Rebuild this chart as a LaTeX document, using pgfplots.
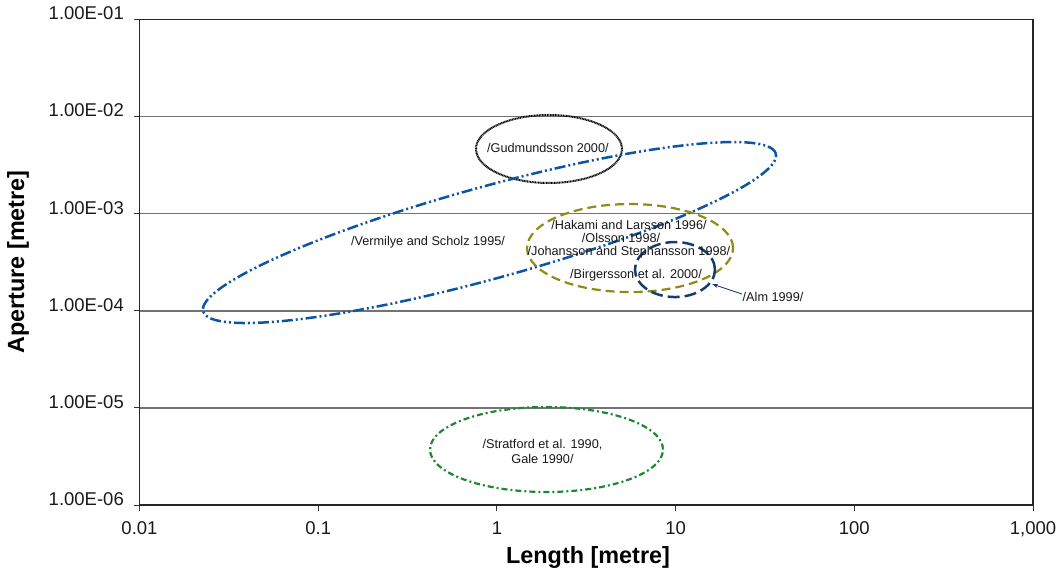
\documentclass[border=0pt]{standalone}
\usepackage{fontspec}
\setmainfont{Liberation Sans}
\usepackage{pgfplots}
\pgfplotsset{compat=1.18}
\usetikzlibrary{arrows.meta}
\definecolor{vblue}{RGB}{12,85,165}
\definecolor{volive}{RGB}{140,140,25}
\definecolor{vnavy}{RGB}{25,60,110}
\definecolor{vgreen}{RGB}{30,135,50}
\definecolor{vgrid}{RGB}{115,115,115}
\begin{document}
\begin{tikzpicture}
\begin{axis}[
  at={(0pt,0pt)}, anchor=south west,
  scale only axis, width=893.5pt, height=485.5pt,
  xmode=log, ymode=log,
  xmin=0.01, xmax=1000, ymin=1e-6, ymax=1e-1,
  xtick={0.01,0.1,1,10,100,1000},
  xticklabels={0.01,0.1,1,10,100,{1,000}},
  ytick={1e-6,1e-5,1e-4,1e-3,1e-2,1e-1},
  yticklabels={1.00E-06,1.00E-05,1.00E-04,1.00E-03,1.00E-02,1.00E-01},
  xminorticks=false, yminorticks=false,
  tick align=outside, xtick pos=left, ytick pos=left,
  major tick length=6pt,
  tick style={black!80, line width=1pt},
  axis line style={black!85, line width=1.4pt},
  ymajorgrids, major grid style={vgrid, line width=1.4pt},
  ticklabel style={font=\fontsize{18.5}{20}\selectfont, text=black!90},
  yticklabel style={anchor=east, inner sep=0pt, xshift=-9.5pt, yshift=6pt},
  xticklabel style={anchor=north, inner sep=0pt, yshift=-10.5pt},
  xlabel={\textbf{Length [metre]}},
  ylabel={\textbf{Aperture [metre]}},
  xlabel style={at={(axis description cs:0.502,-0.109)}, anchor=center, font=\fontsize{23.4}{26}\selectfont},
  ylabel style={at={(axis description cs:-0.136,0.5005)}, anchor=center, rotate=0, font=\fontsize{23.4}{26}\selectfont},
  clip=false,
]
% Gudmundsson 2000
\draw[black, line width=2pt, dash pattern=on 1pt off 0.6pt] (axis cs:1.957,4.64e-3) ellipse [x radius=73pt, y radius=34pt];
% Vermilye and Scholz 1995
\draw[vblue, line width=2.5pt, dash pattern=on 11pt off 3pt on 2pt off 3pt on 2pt off 3pt, rotate around={15.4:(axis cs:0.909,6.4e-4)}] (axis cs:0.909,6.4e-4) ellipse [x radius=297pt, y radius=46pt];
% Hakami et al.
\draw[volive, line width=2.2pt, dash pattern=on 9pt off 5pt] (axis cs:5.56,4.43e-4) ellipse [x radius=103pt, y radius=44pt];
% Alm 1999
\draw[vnavy, line width=2.5pt, dash pattern=on 12pt off 5pt] (axis cs:9.92,2.66e-4) ellipse [x radius=40pt, y radius=27.5pt];
% Stratford / Gale
\draw[vgreen, line width=2.2pt, dash pattern=on 6pt off 3pt on 2pt off 3pt] (axis cs:1.895,3.73e-6) ellipse [x radius=116.5pt, y radius=42.5pt];
% arrow
\draw[vnavy, line width=0.9pt, -{Stealth[length=6pt,width=4pt]}] (axis cs:23.5,1.49e-4) -- (axis cs:16,1.888e-4);
% labels
\begin{scope}[every node/.style={font=\fontsize{12.7}{15.5}\selectfont, text=black!90, inner sep=0pt, anchor=center}]
\node at (axis cs:1.93,4.7e-3) {/Gudmundsson 2000/};
\node at (axis cs:0.4116,5.11e-4) {/Vermilye and Scholz 1995/};
\node at (axis cs:5.485,7.65e-4) {/Hakami and Larsson 1996/};
\node at (axis cs:4.95,5.62e-4) {/Olsson 1998/};
\node at (axis cs:5.485,4.06e-4) {/Johansson and Stephansson 1998/};
\node at (axis cs:6.00,2.34e-4) {/Birgersson et al. 2000/};
\node at (axis cs:35.1,1.387e-4) {/Alm 1999/};
\node[align=center] at (axis cs:1.80,3.56e-6) {/Stratford et al. 1990,\\Gale 1990/};
\end{scope}
\end{axis}
\pgfresetboundingbox
\path[use as bounding box] (-139.5pt,-66pt) rectangle (921.5pt,505pt);
\end{tikzpicture}
\end{document}
